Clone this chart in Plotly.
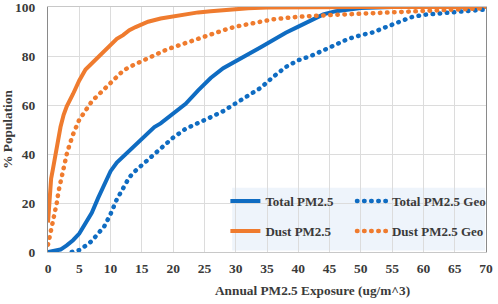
import plotly.graph_objects as go

# ---------------- data ----------------
total_x = [0, 1, 2, 3, 4, 5, 6, 7, 8, 9, 10, 11, 12, 13, 14, 15, 16, 17, 18, 19, 20,
           22, 24, 26, 28, 30, 32, 34, 36, 38, 40, 42, 44, 46, 48, 50, 55, 60, 65, 70]
total_y = [0, 0.3, 1, 2.7, 4.8, 7.5, 11.5, 16, 22, 28, 33, 36.5, 39, 41.5, 44, 46.5, 49, 51, 52.5, 54.5, 56.5,
           60.5, 66, 71, 75, 78, 81, 83.6, 86.5, 89.5, 92, 94.5, 97, 98.3, 99, 99.6, 100, 100, 100, 100]

total_geo_x = [3.8, 5, 6, 7, 8, 9, 10, 11, 12, 13, 14, 15, 16, 17, 18, 19, 20, 22, 24, 26, 28, 30,
               32, 34, 36, 38, 40, 42, 44, 46, 48, 50, 52, 54, 56, 58, 60, 62, 64, 66, 68, 70]
total_geo_y = [0, 0.8, 2.5, 4.5, 7.5, 10.5, 15.5, 21.5, 26, 30.5, 33.2, 35.5, 37.7, 39.6, 42, 44.8, 46.7, 50.3, 52.5, 55, 57.5, 60.5,
               63.5, 67, 71.5, 75.5, 78.3, 80, 82.3, 84.8, 87, 88.5, 89.7, 91.8, 93.8, 95.8, 96.8, 97.2, 97.6, 98, 98.5, 99]

dust_x = [0, 0.3, 0.5, 0.8, 1.1, 1.5, 2, 2.5, 3, 4, 5, 6, 7, 8, 9, 10, 11, 12, 13, 14, 15, 16,
          18, 20, 22, 24, 26, 28, 30, 32, 35, 40, 45, 50, 55, 60, 65, 70]
dust_y = [12, 21, 30, 34, 38.5, 45, 51, 56, 59.5, 64.5, 70, 74.5, 77, 79.5, 82, 85, 87, 88.5, 90.5, 91.8, 93, 94,
          95.3, 96.2, 97, 97.8, 98.3, 98.8, 99.2, 99.5, 99.8, 100, 100, 100, 100, 100, 100, 100]

dust_geo_x = [0, 0.3, 0.6, 0.9, 1.1, 1.4, 1.7, 2.0, 2.3, 2.7, 3.0, 3.4, 4, 5, 6, 7, 8, 9, 10, 11, 12, 13, 14,
              15, 16, 17, 18, 19, 20, 22, 24, 26, 28, 30, 32, 34, 36, 38, 40, 45, 50, 55, 60, 65, 70]
dust_geo_y = [3, 6.5, 10, 13, 16.5, 20, 25, 29, 32.5, 36.5, 40, 43.4, 48, 54, 58, 61.5, 64, 66.5, 68.5, 71.5, 74, 75.5, 76.8,
              78, 79, 80.5, 81.5, 82.7, 83.6, 85.5, 87, 89, 90.5, 92, 92.8, 94, 95, 95.5, 96, 96.7, 97.3, 97.6, 98.3, 99, 99.5]

x_ticks = list(range(0, 75, 5))
y_ticks = [0, 20, 40, 60, 80, 100]

BLUE = "#0f6cc2"
ORANGE = "#ef7b2e"
FONT = "Liberation Serif"
TXT = "#3a3a3a"

fig = go.Figure()
fig.add_trace(go.Scatter(x=total_x, y=total_y, mode="lines", name="Total PM2.5",
                         line=dict(color=BLUE, width=4), legend="legend", legendgroup="a"))
fig.add_trace(go.Scatter(x=dust_x, y=dust_y, mode="lines", name="Dust PM2.5",
                         line=dict(color=ORANGE, width=4), legend="legend", legendgroup="b"))
fig.add_trace(go.Scatter(x=total_geo_x, y=total_geo_y, mode="lines", name="Total PM2.5 Geo",
                         line=dict(color=BLUE, width=4.5, dash="0.5px,6.6px"), legend="legend2", legendgroup="c"))
fig.add_trace(go.Scatter(x=dust_geo_x, y=dust_geo_y, mode="lines", name="Dust PM2.5 Geo",
                         line=dict(color=ORANGE, width=4.5, dash="0.5px,6.6px"), legend="legend2", legendgroup="d"))

legend_common = dict(orientation="v", traceorder="grouped", tracegroupgap=10,
                     bgcolor="rgba(0,0,0,0)", itemwidth=30,
                     font=dict(family=FONT, size=13, color=TXT, weight="bold"),
                     yanchor="top", xanchor="left")

fig.update_layout(
    width=498, height=304,
    margin=dict(l=48, r=10, t=7, b=52),
    paper_bgcolor="white", plot_bgcolor="white",
    showlegend=True,
    legend=dict(x=0.405, y=0.269, **legend_common),
    legend2=dict(x=0.694, y=0.269, **legend_common),
    shapes=[dict(type="rect", xref="paper", yref="paper", x0=0.4205, x1=0.998, y0=0.006, y1=0.262,
                 fillcolor="#eef4fb", line=dict(width=0), layer="between")],
    annotations=[dict(text="Annual PM2.5 Exposure (ug/m^3)", xref="paper", yref="paper",
                      x=0.605, y=-0.158, xanchor="center", yanchor="middle", showarrow=False,
                      font=dict(family=FONT, size=13.3, color=TXT, weight="bold"))],
    xaxis=dict(range=[0, 70], tickvals=x_ticks, ticktext=[str(v) for v in x_ticks],
               showgrid=True, gridcolor="#dcdcdc", gridwidth=1,
               showline=True, linecolor="#c8c8c8", linewidth=1, mirror=True,
               zeroline=False, ticks="", ticklabelstandoff=4, ticklabeloverflow="allow",
               tickfont=dict(family=FONT, size=13.5, color=TXT, weight="bold"),
               automargin=False),
    yaxis=dict(range=[0, 100], tickvals=y_ticks, ticktext=[str(v) for v in y_ticks],
               showgrid=True, gridcolor="#dcdcdc", gridwidth=1,
               showline=True, linecolor="#8a8a8a", linewidth=1, mirror=True,
               zeroline=False, ticks="", ticklabelstandoff=9, ticklabeloverflow="allow",
               tickfont=dict(family=FONT, size=13.5, color=TXT, weight="bold"),
               title=dict(text="% Population", standoff=6,
                          font=dict(family=FONT, size=13.3, color=TXT, weight="bold")),
               automargin=False),
)

post = """
document.body.style.margin = '0';
document.body.style.padding = '0';
var gd = document.getElementById('{plot_id}');
function roundDots(){
  gd.querySelectorAll('path.js-line').forEach(function(p){
    var d = p.style.strokeDasharray;
    if (d && d !== 'none' && d !== '') { p.style.strokeLinecap = 'round'; }
  });
}
roundDots();
gd.on('plotly_afterplot', roundDots);
"""

fig.write_html("out.html", post_script=post, config={"displayModeBar": False})
